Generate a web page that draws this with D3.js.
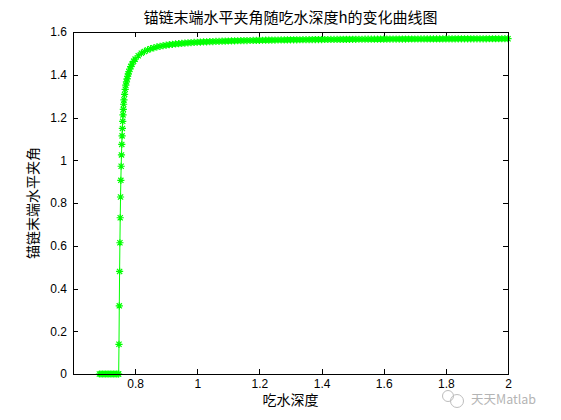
<!DOCTYPE html>
<html>
<head>
<meta charset="utf-8">
<script src="https://cdn.jsdelivr.net/npm/d3@7"></script>
<style>
  html, body { margin: 0; padding: 0; background: #fff; }
  svg { display: block; }
</style>
</head>
<body>
<svg id="chart" width="561" height="420"></svg>
<script>
// ---- data ----
const titleText = "锚链末端水平夹角随吃水深度h的变化曲线图";
const xLabel = "吃水深度";
const yLabel = "锚链末端水平夹角";
const xTicks = [0.8, 1, 1.2, 1.4, 1.6, 1.8, 2];
const yTicks = [0, 0.2, 0.4, 0.6, 0.8, 1, 1.2, 1.4, 1.6];
const xDomain = [0.6, 2];
const yDomain = [0, 1.6];

const depth = [
  0.685, 0.690, 0.695, 0.700, 0.705, 0.710, 0.715, 0.720, 0.725, 0.730, 0.735, 0.740, 0.745, 0.747,
  0.748, 0.749, 0.750, 0.751, 0.752, 0.753, 0.754, 0.755, 0.756, 0.757, 0.758, 0.759, 0.760, 0.761, 0.762, 0.763, 0.764,
  0.766, 0.768, 0.770, 0.772, 0.774, 0.776, 0.778, 0.780, 0.783, 0.786, 0.790, 0.795, 0.800,
  0.81, 0.82, 0.83, 0.84, 0.85, 0.86, 0.87, 0.88, 0.89,
  0.90, 0.91, 0.92, 0.93, 0.94, 0.95, 0.96, 0.97, 0.98, 0.99,
  1.00, 1.01, 1.02, 1.03, 1.04, 1.05, 1.06, 1.07, 1.08, 1.09,
  1.10, 1.11, 1.12, 1.13, 1.14, 1.15, 1.16, 1.17, 1.18, 1.19,
  1.20, 1.21, 1.22, 1.23, 1.24, 1.25, 1.26, 1.27, 1.28, 1.29,
  1.30, 1.31, 1.32, 1.33, 1.34, 1.35, 1.36, 1.37, 1.38, 1.39,
  1.40, 1.41, 1.42, 1.43, 1.44, 1.45, 1.46, 1.47, 1.48, 1.49,
  1.50, 1.51, 1.52, 1.53, 1.54, 1.55, 1.56, 1.57, 1.58, 1.59,
  1.60, 1.61, 1.62, 1.63, 1.64, 1.65, 1.66, 1.67, 1.68, 1.69,
  1.70, 1.71, 1.72, 1.73, 1.74, 1.75, 1.76, 1.77, 1.78, 1.79,
  1.80, 1.81, 1.82, 1.83, 1.84, 1.85, 1.86, 1.87, 1.88, 1.89,
  1.90, 1.91, 1.92, 1.93, 1.94, 1.95, 1.96, 1.97, 1.98, 1.99, 2.00
];
const angle = [
  0, 0, 0, 0, 0, 0, 0, 0, 0, 0, 0, 0, 0, 0,
  0.139, 0.319, 0.480, 0.614, 0.731, 0.828, 0.906, 0.972, 1.025, 1.074, 1.114, 1.149, 1.182, 1.212, 1.238, 1.262, 1.282,
  1.308, 1.332, 1.351, 1.367, 1.381, 1.393, 1.404, 1.414, 1.427, 1.438, 1.450, 1.463, 1.473,
  1.489, 1.501, 1.509, 1.516, 1.522, 1.526, 1.530, 1.533, 1.536,
  1.5383, 1.5405, 1.5423, 1.5440, 1.5455, 1.5468, 1.5481, 1.5492, 1.5502, 1.5511,
  1.5520, 1.5528, 1.5535, 1.5542, 1.5548, 1.5554, 1.5560, 1.5565, 1.5570, 1.5574,
  1.5579, 1.5583, 1.5587, 1.5590, 1.5594, 1.5597, 1.5600, 1.5603, 1.5606, 1.5609,
  1.5612, 1.5614, 1.5617, 1.5619, 1.5621, 1.5623, 1.5625, 1.5627, 1.5629, 1.5631,
  1.5633, 1.5634, 1.5636, 1.5638, 1.5639, 1.5641, 1.5642, 1.5643, 1.5645, 1.5646,
  1.5647, 1.5649, 1.5650, 1.5651, 1.5652, 1.5653, 1.5654, 1.5655, 1.5656, 1.5657,
  1.5658, 1.5659, 1.5660, 1.5661, 1.5662, 1.5662, 1.5663, 1.5664, 1.5665, 1.5666,
  1.5666, 1.5667, 1.5668, 1.5668, 1.5669, 1.5670, 1.5670, 1.5671, 1.5672, 1.5672,
  1.5673, 1.5673, 1.5674, 1.5674, 1.5675, 1.5676, 1.5676, 1.5677, 1.5677, 1.5678,
  1.5678, 1.5678, 1.5679, 1.5679, 1.5680, 1.5680, 1.5681, 1.5681, 1.5682, 1.5682,
  1.5682, 1.5683, 1.5683, 1.5683, 1.5684, 1.5684, 1.5685, 1.5685, 1.5685, 1.5686, 1.5686
];

// ---- layout ----
const svg = d3.select("#chart");
const mLeft = 73, mRight = 508, mTop = 32, mBottom = 374;
const x = d3.scaleLinear().domain(xDomain).range([mLeft, mRight]);
const y = d3.scaleLinear().domain(yDomain).range([mBottom, mTop]);
const tickFont = "'Liberation Sans', Arial, Helvetica, sans-serif";
const cjkFont = "'Noto Sans CJK SC', 'Noto Sans', sans-serif";
const fmt = d => String(+d.toFixed(1));

// axes (ticks pointing inward, like MATLAB)
function styleAxis(g) {
  g.select(".domain").remove();
  g.selectAll(".tick line").attr("stroke", "#000").attr("shape-rendering", "crispEdges");
  g.selectAll(".tick text").attr("fill", "#000").attr("font-family", tickFont).attr("font-size", 12);
}
svg.append("g").attr("transform", `translate(0,${mBottom})`)
  .call(d3.axisBottom(x).tickValues(xTicks).tickSize(-5).tickPadding(5).tickFormat(fmt))
  .call(styleAxis);
svg.append("g").attr("transform", `translate(0,${mTop})`)
  .call(d3.axisTop(x).tickValues(xTicks).tickSize(-5).tickFormat(""))
  .call(styleAxis);
svg.append("g").attr("transform", `translate(${mLeft},0)`)
  .call(d3.axisLeft(y).tickValues(yTicks).tickSize(-5).tickPadding(6).tickFormat(fmt))
  .call(styleAxis);
svg.append("g").attr("transform", `translate(${mRight},0)`)
  .call(d3.axisRight(y).tickValues(yTicks).tickSize(-5).tickFormat(""))
  .call(styleAxis);

// data line + asterisk markers
const pts = depth.map((d, i) => [d, angle[i]]);
svg.append("path")
  .datum(pts)
  .attr("fill", "none")
  .attr("stroke", "#00ff00")
  .attr("stroke-width", 1)
  .attr("d", d3.line().x(d => x(d[0])).y(d => y(d[1])));

const r = 3.6, dd = 2.6;
const star = `M${-r},0H${r}M0,${-r}V${r}M${-dd},${-dd}L${dd},${dd}M${-dd},${dd}L${dd},${-dd}`;
svg.append("g").selectAll("path")
  .data(pts)
  .join("path")
  .attr("transform", d => `translate(${x(d[0])},${y(d[1])})`)
  .attr("d", star)
  .attr("fill", "none")
  .attr("stroke", "#00ff00")
  .attr("stroke-width", 1.2);

// box
svg.append("rect")
  .attr("x", mLeft + 0.5).attr("y", mTop + 0.5)
  .attr("width", mRight - mLeft).attr("height", mBottom - mTop)
  .attr("fill", "none").attr("stroke", "#000").attr("stroke-width", 1);

// texts
svg.append("text")
  .attr("x", (mLeft + mRight) / 2).attr("y", 23)
  .attr("text-anchor", "middle")
  .attr("font-family", cjkFont).attr("font-size", 15)
  .attr("fill", "#000")
  .text(titleText);
svg.append("text")
  .attr("x", (mLeft + mRight) / 2).attr("y", 405)
  .attr("text-anchor", "middle")
  .attr("font-family", cjkFont).attr("font-size", 14)
  .attr("fill", "#000")
  .text(xLabel);
svg.append("text")
  .attr("transform", `translate(38,${(mTop + mBottom) / 2}) rotate(-90)`)
  .attr("text-anchor", "middle")
  .attr("font-family", cjkFont).attr("font-size", 14)
  .attr("fill", "#000")
  .text(yLabel);

// watermark
const wm = svg.append("g").attr("opacity", 0.55);
wm.append("circle").attr("cx", 448).attr("cy", 396).attr("r", 5.5).attr("fill", "none").attr("stroke", "#888").attr("stroke-width", 1);
wm.append("circle").attr("cx", 457).attr("cy", 401).attr("r", 6.5).attr("fill", "none").attr("stroke", "#888").attr("stroke-width", 1);
wm.append("text")
  .attr("x", 471).attr("y", 404)
  .attr("font-family", cjkFont).attr("font-size", 12.5)
  .attr("fill", "#777")
  .text("天天Matlab");
</script>
</body>
</html>
